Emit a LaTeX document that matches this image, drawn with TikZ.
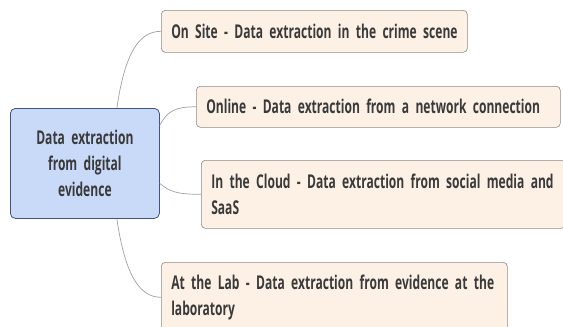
\documentclass[tikz,border=0pt]{standalone}
\usepackage{fontspec}
\setmainfont{Open Sans}[FakeStretch=0.635]
\definecolor{topicfill}{HTML}{C9DAF8}
\definecolor{topicline}{HTML}{3F5580}
\definecolor{branchfill}{HTML}{FDF1E6}
\definecolor{branchline}{HTML}{8E8A86}
\definecolor{linkline}{HTML}{A0A0A0}
\definecolor{textgray}{HTML}{3A3A3A}
\newcommand{\textsz}{\fontsize{19}{26}\selectfont\bfseries\spaceskip=4.5pt plus 1pt minus 1pt}

\begin{document}
\begin{tikzpicture}[x=1pt,y=-1pt,font=\textsz,text=textgray]
\tikzstyle{topic}=[draw=topicline,fill=topicfill, rectangle, rounded corners=5pt, align=center, anchor=north west, inner sep=0pt, line width=0.8pt]
\tikzstyle{branch}=[draw=branchline,fill=branchfill, rectangle, rounded corners=4pt, align=left, anchor=north west, inner xsep=10pt, inner ysep=0pt, line width=0.6pt]
\tikzstyle{link}=[draw=linkline, line width=0.7pt]
\clip (0,0) rectangle (563,327);

% central topic
\node[topic, minimum width=149pt, minimum height=110pt, text width=149pt] (root) at (10,108) {Data extraction\\from digital\\evidence};

% branches
\node[branch, minimum height=42pt, text width=286pt] (site) at (161,10) {\mbox{On Site - Data extraction in the crime scene}};
\node[branch, minimum height=41pt, text width=344pt] (online) at (196,86) {\mbox{Online - Data extraction from a network connection}};
\node[branch, minimum height=68pt, text width=344pt] (cloud) at (201,160) {\mbox{In the Cloud - Data extraction from social media and}\\SaaS};
\node[branch, minimum height=70pt, text width=326pt] (lab) at (161,262) {\mbox{At the Lab - Data extraction from evidence at the}\\laboratory};

% links from the topic to each branch
\draw[link] (root.60) .. controls +(8,-55) and +(-22,0) .. (site.west);
\draw[link] (root.27) .. controls +(8,-15) and +(-20,0) .. (online.west);
\draw[link] (root.-15) .. controls +(10,8) and +(-25,0) .. (cloud.west);
\draw[link] (root.-60) .. controls +(8,55) and +(-22,0) .. (lab.west);
\end{tikzpicture}
\end{document}
